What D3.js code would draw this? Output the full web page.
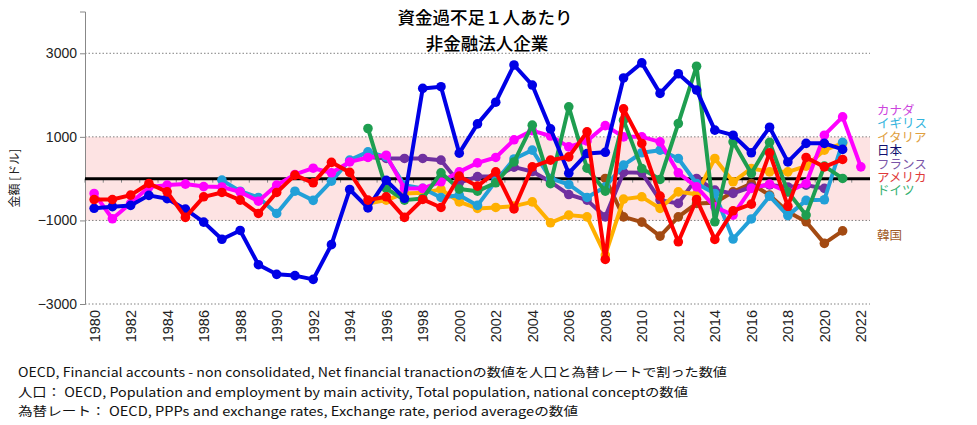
<!DOCTYPE html>
<html><head><meta charset="utf-8">
<script src="https://cdn.jsdelivr.net/npm/d3@7"></script>
<style>
html,body{margin:0;padding:0;background:#fff;}
text{font-family:"Noto Sans CJK JP","Noto Sans",sans-serif;}
</style></head>
<body><svg id="c" width="977" height="425"></svg>
<script>
const years = d3.range(1980, 2023);
const yTicks = [-3000, -1000, 1000, 3000];
const titleLines = ["資金過不足１人あたり", "非金融法人企業"];
const yAxisTitle = "金額 [ドル]";
const footnotes = [
  "OECD, Financial accounts - non consolidated, Net financial tranactionの数値を人口と為替レートで割った数値",
  "人口： OECD, Population and employment by main activity, Total population, national conceptの数値",
  "為替レート： OECD, PPPs and exchange rates, Exchange rate, period averageの数値"
];
// values per year 1980..2022 (null = no data)
const korea = [null,null,null,null,null,null,null,null,null,null,
  null,null,null,null,null,null,null,null,null,null,
  null,null,null,null,null,null,null,null,5,-914,
  -1040,-1375,-914,-593,-578,-316,-115,-395,-794,-1033,
  -1550,-1250,null];
const france = [null,null,null,null,null,null,null,null,null,null,
  null,null,null,null,null,520,483,483,483,442,
  -100,50,50,275,170,-76,-380,-514,-914,150,
  140,-514,-593,5,-275,-354,-200,-150,-200,-155,
  -234,null,null];
const italy = [null,null,null,null,null,null,null,null,null,null,
  null,null,null,null,null,-593,-514,-354,-340,-258,
  -555,-713,-690,-658,-555,-1057,-873,-914,-1830,-490,
  -435,-713,-316,-371,483,-76,244,163,163,300,
  682,842,null];
const uk = [null,null,null,null,null,null,null,-36,-300,-450,
  -833,-300,-520,-60,442,641,522,-155,-234,-450,
  -395,-640,-60,470,682,5,-140,-450,-196,323,
  620,682,483,-115,-354,-1445,-965,-419,-885,-520,
  -505,870,null];
const canada = [-354,-960,-590,-200,-155,-130,-190,-200,-316,-540,
  -155,100,250,140,400,507,560,-234,-234,-76,
  163,378,507,930,1150,1020,760,900,1270,1000,
  1000,880,140,-196,-675,-873,-234,-131,-316,-115,
  1040,1478,282];
const germany = [null,null,null,null,null,null,null,null,null,null,
  null,null,null,null,null,1200,-234,-514,-474,140,
  -250,-300,-100,400,1280,-120,1718,250,-300,1400,
  244,-20,1320,2690,-1033,880,124,870,-316,-873,
  300,5,null];
const japan = [-710,-670,-640,-400,-480,-730,-1040,-1450,-1240,-2060,
  -2290,-2320,-2410,-1580,-260,-700,-40,-470,2160,2200,
  610,1310,1830,2720,2240,1190,130,600,630,2410,
  2770,2040,2510,2120,1160,1040,620,1230,400,845,
  845,700,null];
const usa = [-500,-500,-395,-115,-316,-928,-435,-330,-514,-833,
  -330,84,-100,390,150,-514,-435,-928,-498,-690,
  60,-180,163,-725,282,442,522,1120,-1933,1670,
  842,-419,-1512,-498,-1455,-770,-610,617,-658,507,
  282,459,null];

const seriesNames = ["韓国","フランス","イタリア","イギリス","カナダ","ドイツ","日本","アメリカ"];
const seriesValues = [korea, france, italy, uk, canada, germany, japan, usa];
const seriesColors = ["#a34a12","#7030a0","#ffb000","#22a0d8","#ff00ff","#1e9e50","#0000e6","#ff0000"];
const labelColors = {"カナダ":"#cc44dd","イギリス":"#33b4dd","イタリア":"#e0a040","日本":"#101070",
  "フランス":"#7a55a8","アメリカ":"#e03a3a","ドイツ":"#33b070","韓国":"#a05a28"};
const legendOrder = ["カナダ","イギリス","イタリア","日本","フランス","アメリカ","ドイツ"];
const legendLabelValue = {"韓国": -1360};

const svg = d3.select("#c");
const x = d3.scaleBand().domain(years).range([85, 870]);
const y = d3.scaleLinear().domain([-3000, 4000]).range([304, 11.5]);
const cx = yr => x(yr) + x.bandwidth()/2;

// pink band
svg.append("rect").attr("x", 85).attr("width", 785)
  .attr("y", y(1000)).attr("height", y(-1000) - y(1000)).attr("fill", "#fde3e3");
// gridlines
svg.append("g").selectAll("line").data(yTicks).join("line")
  .attr("x1", 85).attr("x2", 870).attr("y1", d => y(d)).attr("y2", d => y(d))
  .attr("stroke", "#808080").attr("stroke-width", 1).attr("stroke-dasharray", "1.5,2");
// y axis
const yAxis = d3.axisLeft(y).tickValues(yTicks).tickSize(5).tickFormat(d3.format("d"));
const gy = svg.append("g").attr("transform", "translate(85,0)").call(yAxis);
gy.select(".domain").attr("stroke", "#888");
gy.selectAll(".tick line").attr("stroke", "#888");
gy.selectAll(".tick text").attr("font-size", 14).attr("fill", "#222").attr("x", -8)
  .style("font-family", "'Liberation Sans',sans-serif");
// zero line axis with ticks at band edges
const xAxis = d3.axisBottom(x).tickSize(4).tickFormat("");
const gx = svg.append("g").attr("transform", `translate(0,${y(0)})`).call(xAxis);
gx.selectAll(".tick").attr("transform", d => `translate(${x(d)},0)`);
gx.selectAll(".tick line").attr("stroke", "#888");
gx.select(".domain").remove();
svg.append("line").attr("x1", 85).attr("x2", 870).attr("y1", y(0)).attr("y2", y(0))
  .attr("stroke", "#000").attr("stroke-width", 3);
// x labels
svg.append("g").selectAll("text").data(years.filter(d => d % 2 === 0)).join("text")
  .attr("transform", d => `translate(${cx(d) + 5.5},310) rotate(-90)`)
  .attr("text-anchor", "end").attr("font-size", 14.5).attr("fill", "#222")
  .style("font-family", "'Liberation Sans',sans-serif")
  .text(d => d);

// series
const line = d3.line().defined(d => d.v !== null).x(d => cx(d.yr)).y(d => y(d.v));
seriesNames.forEach((name, i) => {
  const pts = years.map((yr, j) => ({yr, v: seriesValues[i][j]}));
  const g = svg.append("g");
  g.append("path").datum(pts).attr("d", line).attr("fill", "none")
    .attr("stroke", seriesColors[i]).attr("stroke-width", 4).attr("stroke-linejoin", "round");
  g.selectAll("circle").data(pts.filter(d => d.v !== null)).join("circle")
    .attr("cx", d => cx(d.yr)).attr("cy", d => y(d.v)).attr("r", 4.8)
    .attr("fill", seriesColors[i]);
});

// legend labels
const lg = svg.append("g").attr("font-size", 12.5);
legendOrder.forEach((name, i) => {
  lg.append("text").attr("x", 877).attr("y", 115 + i * 13.4).attr("fill", labelColors[name]).text(name);
});
lg.append("text").attr("x", 877).attr("y", y(legendLabelValue["韓国"]) + 5).attr("fill", labelColors["韓国"]).text("韓国");

// titles
svg.append("text").attr("x", 485).attr("y", 24).attr("text-anchor", "middle").attr("font-size", 17.5)
  .attr("fill", "#000").attr("font-weight", 500).text(titleLines[0]);
svg.append("text").attr("x", 487).attr("y", 50).attr("text-anchor", "middle").attr("font-size", 17.5)
  .attr("fill", "#000").attr("font-weight", 500).text(titleLines[1]);
// y axis title
svg.append("text").attr("transform", "translate(19,178) rotate(-90)").attr("text-anchor", "middle")
  .attr("font-size", 12).attr("fill", "#222").text(yAxisTitle);
// footnotes
const fnEnds = [727, 688, 578];
footnotes.forEach((t, i) => {
  svg.append("text").attr("x", 18).attr("y", 377 + i * 19.5).attr("font-size", 12.5).attr("fill", "#111")
    .attr("textLength", fnEnds[i] - 18).attr("lengthAdjust", "spacingAndGlyphs").text(t);
});
</script></body></html>
